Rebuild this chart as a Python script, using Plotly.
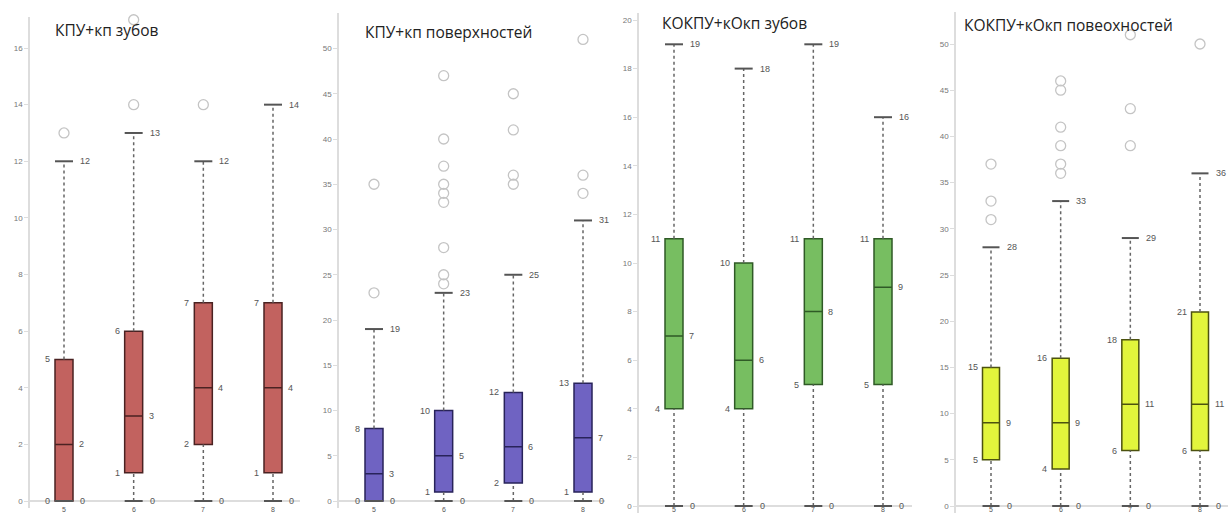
import plotly.graph_objects as go

# ---- data -------------------------------------------------------------
groups = ["5", "6", "7", "8"]

titles = ["КПУ+кп зубов", "КПУ+кп поверхностей",
          "КОКПУ+кОкп зубов", "КОКПУ+кОкп повеохностей"]

# panel 1: КПУ+кп зубов
p1_min = [0, 0, 0, 0]
p1_q1 = [0, 1, 2, 1]
p1_med = [2, 3, 4, 4]
p1_q3 = [5, 6, 7, 7]
p1_max = [12, 13, 12, 14]
p1_out = [[13], [14, 17], [14], []]

# panel 2: КПУ+кп поверхностей
p2_min = [0, 0, 0, 0]
p2_q1 = [0, 1, 2, 1]
p2_med = [3, 5, 6, 7]
p2_q3 = [8, 10, 12, 13]
p2_max = [19, 23, 25, 31]
p2_out = [[23, 35], [24, 25, 28, 33, 34, 35, 37, 40, 47, 54],
          [35, 36, 41, 45], [34, 36, 51]]

# panel 3: КОКПУ+кОкп зубов
p3_min = [0, 0, 0, 0]
p3_q1 = [4, 4, 5, 5]
p3_med = [7, 6, 8, 9]
p3_q3 = [11, 10, 11, 11]
p3_max = [19, 18, 19, 16]
p3_out = [[], [], [], []]

# panel 4: КОКПУ+кОкп повеохностей
p4_min = [0, 0, 0, 0]
p4_q1 = [5, 4, 6, 6]
p4_med = [9, 9, 11, 11]
p4_q3 = [15, 16, 18, 21]
p4_max = [28, 33, 29, 36]
p4_out = [[31, 33, 37], [36, 37, 39, 41, 45, 46], [39, 43, 51], [50]]

y_ticks = [list(range(0, 17, 2)), list(range(0, 51, 5)),
           list(range(0, 21, 2)), list(range(0, 51, 5))]

# ---- styling / layout geometry (pixels in a 1231x513 page) ------------
W, H = 1231, 513
fills = ["#C2625F", "#6F63C2", "#77BE61", "#E2F53C"]
edges = ["#4a2222", "#28235a", "#2f5a26", "#4c520f"]

# axis x, right edge, first/last box centre, y px of value 0, px per unit,
# bottom px, top px, box width px, title x, title y
geom = [
    dict(ax=30, right=300, c1=64, c4=273, zero=501, scale=28.31, bot=508, top=17, bw=18, tx=53, ty=30),
    dict(ax=339, right=605, c1=374, c4=583, zero=501, scale=9.05, bot=508, top=13, bw=18, tx=363, ty=32),
    dict(ax=639, right=912, c1=674, c4=883, zero=506, scale=24.3, bot=513, top=13, bw=18, tx=660, ty=23),
    dict(ax=956, right=1228, c1=991, c4=1200, zero=506, scale=9.24, bot=513, top=12, bw=17, tx=962, ty=25),
]

panels = [
    (p1_min, p1_q1, p1_med, p1_q3, p1_max, p1_out),
    (p2_min, p2_q1, p2_med, p2_q3, p2_max, p2_out),
    (p3_min, p3_q1, p3_med, p3_q3, p3_max, p3_out),
    (p4_min, p4_q1, p4_med, p4_q3, p4_max, p4_out),
]

fig = go.Figure()
annotations = []
layout_axes = {}
xs = [1, 2, 3, 4]
lab_font = dict(family="Liberation Sans", size=9, color="#555555")

for k, (mn, q1, med, q3, mx, outs) in enumerate(panels):
    g = geom[k]
    sfx = "" if k == 0 else str(k + 1)
    xref, yref = "x" + sfx, "y" + sfx
    unit = (g["c4"] - g["c1"]) / 3.0
    xr = [1 - (g["c1"] - g["ax"]) / unit, 4 + (g["right"] - g["c4"]) / unit]
    yr = [-(g["bot"] - g["zero"]) / g["scale"], (g["zero"] - g["top"]) / g["scale"]]
    bw = g["bw"] / unit

    layout_axes["xaxis" + sfx] = dict(
        domain=[g["ax"] / W, g["right"] / W], range=xr, anchor=yref,
        tickvals=xs, showticklabels=False, showgrid=False, zeroline=False,
        showline=False, ticks="", automargin=False, fixedrange=True)
    layout_axes["yaxis" + sfx] = dict(
        domain=[1 - g["bot"] / H, 1 - g["top"] / H], range=yr, anchor=xref,
        tickvals=y_ticks[k], showgrid=False, zeroline=True,
        zerolinecolor="#dddddd", zerolinewidth=1.5,
        showline=True, linecolor="#dddddd", linewidth=1.5,
        ticks="outside", ticklen=4, tickcolor="#dddddd",
        tickfont=dict(family="Liberation Sans", size=8, color="#777777"),
        automargin=False, fixedrange=True)

    # dotted whiskers
    wx, wy = [], []
    for i in range(4):
        wx += [xs[i], xs[i], None, xs[i], xs[i], None]
        wy += [q3[i], mx[i], None, mn[i], q1[i], None]
    fig.add_trace(go.Scatter(x=wx, y=wy, mode="lines", xaxis=xref, yaxis=yref,
                             line=dict(color="#666666", width=1.5, dash="dot"),
                             hoverinfo="skip", showlegend=False))
    # whisker caps
    cx, cy = [], []
    for i in range(4):
        for v in (mn[i], mx[i]):
            cx += [xs[i] - bw / 2, xs[i] + bw / 2, None]
            cy += [v, v, None]
    fig.add_trace(go.Scatter(x=cx, y=cy, mode="lines", xaxis=xref, yaxis=yref,
                             line=dict(color="#555555", width=2),
                             hoverinfo="skip", showlegend=False))
    # boxes
    fig.add_trace(go.Box(x=xs, q1=q1, median=med, q3=q3,
                         lowerfence=q1, upperfence=q3,
                         xaxis=xref, yaxis=yref, width=bw, whiskerwidth=0,
                         fillcolor=fills[k], line=dict(color=edges[k], width=1.5),
                         boxpoints=False, hoverinfo="skip", showlegend=False))
    # outliers
    ox, oy = [], []
    for i in range(4):
        ox += [xs[i]] * len(outs[i])
        oy += outs[i]
    fig.add_trace(go.Scatter(x=ox, y=oy, mode="markers", xaxis=xref, yaxis=yref,
                             marker=dict(symbol="circle-open", size=10,
                                         color="#c4c4c4", line=dict(width=1.3)),
                             cliponaxis=False, hoverinfo="skip", showlegend=False))

    # value labels
    for i in range(4):
        for v in (q1[i], q3[i]):
            annotations.append(dict(x=xs[i] - bw / 2, y=v, xref=xref, yref=yref,
                                    text=str(v), showarrow=False, xanchor="right",
                                    xshift=-3, font=lab_font))
        annotations.append(dict(x=xs[i] + bw / 2, y=med[i], xref=xref, yref=yref,
                                text=str(med[i]), showarrow=False, xanchor="left",
                                xshift=4, font=lab_font))
        for v in (mn[i], mx[i]):
            annotations.append(dict(x=xs[i] + bw / 2, y=v, xref=xref, yref=yref,
                                    text=str(v), showarrow=False, xanchor="left",
                                    xshift=5, font=lab_font))
        # group label under each box, kept inside the page
        annotations.append(dict(x=xs[i], y=0, xref=xref, yref="paper",
                                text=groups[i], showarrow=False, xanchor="center",
                                yanchor="bottom", yshift=-2,
                                font=dict(family="Liberation Sans", size=7,
                                          color="#555555")))

    # panel title
    annotations.append(dict(x=g["tx"] / W, y=1 - g["ty"] / H, xref="paper", yref="paper",
                            text=titles[k], showarrow=False, xanchor="left",
                            yanchor="middle",
                            font=dict(family="Open Sans", size=15.5, color="#222222")))

fig.update_layout(width=W, height=H, margin=dict(l=0, r=0, t=0, b=0),
                  paper_bgcolor="white", plot_bgcolor="white",
                  annotations=annotations, **layout_axes)

fig.write_html("out.html")
